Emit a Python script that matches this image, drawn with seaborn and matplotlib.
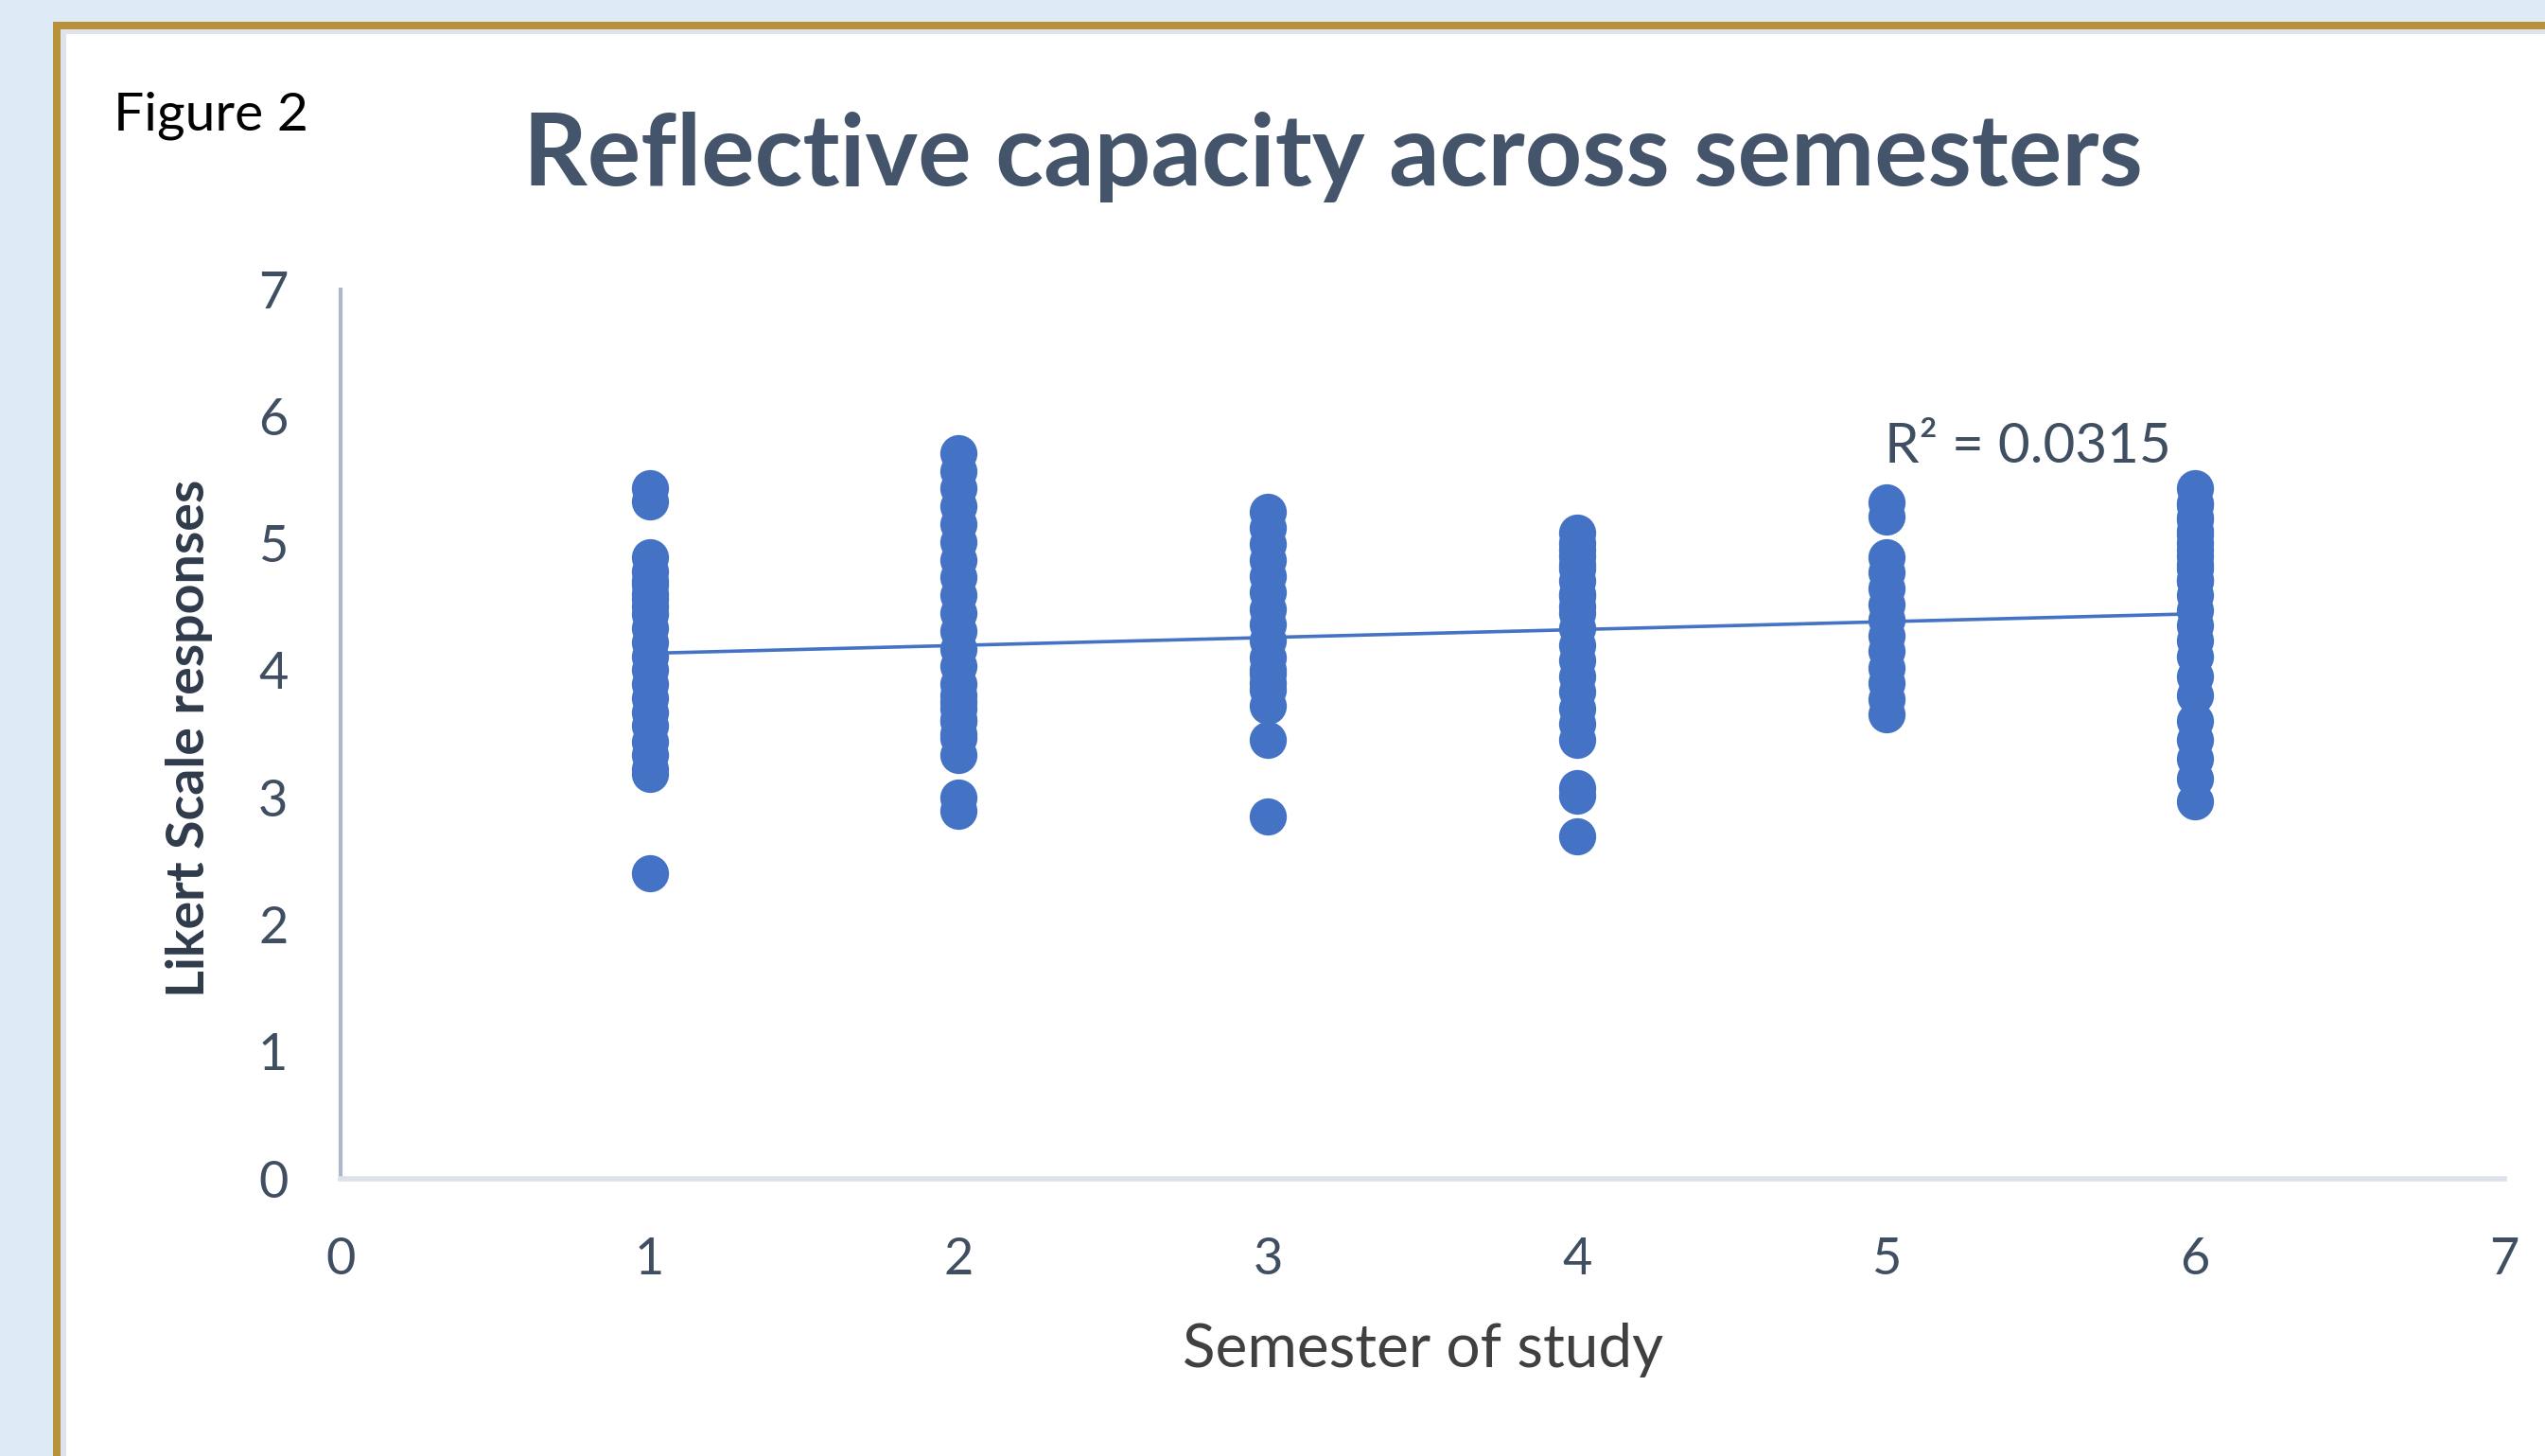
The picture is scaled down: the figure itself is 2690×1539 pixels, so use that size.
import numpy as np
import pandas as pd
import matplotlib
matplotlib.use("Agg")
import matplotlib.pyplot as plt
from matplotlib.patches import Rectangle
import seaborn as sns

# Likert scale responses per semester
semesters = [1, 2, 3, 4, 5, 6]
sem1 = [5.43, 5.33, 4.89, 4.78, 4.70, 4.67, 4.60, 4.56, 4.50, 4.44, 4.33, 4.22,
        4.11, 4.00, 3.89, 3.78, 3.67, 3.56, 3.44, 3.33, 3.22, 3.18, 2.40]
sem2 = [5.71, 5.57, 5.43, 5.29, 5.15, 5.01, 4.87, 4.73, 4.59, 4.45, 4.31, 4.17,
        4.03, 3.89, 3.80, 3.75, 3.70, 3.61, 3.60, 3.50, 3.47, 3.33, 3.00, 2.89]
sem3 = [5.25, 5.12, 4.99, 4.87, 4.74, 4.61, 4.48, 4.36, 4.23, 4.10, 4.00, 3.97,
        3.90, 3.85, 3.72, 3.45, 2.85]
sem4 = [5.08, 5.00, 4.95, 4.90, 4.83, 4.80, 4.70, 4.60, 4.58, 4.50, 4.45, 4.33,
        4.20, 4.08, 3.95, 3.83, 3.70, 3.58, 3.45, 3.07, 3.01, 2.69]
sem5 = [5.32, 5.21, 4.89, 4.77, 4.64, 4.52, 4.40, 4.27, 4.15, 4.02, 3.90, 3.77, 3.65]
sem6 = [5.43, 5.31, 5.30, 5.20, 5.19, 5.10, 5.07, 5.00, 4.95, 4.90, 4.83, 4.80,
        4.71, 4.70, 4.59, 4.47, 4.35, 4.23, 4.11, 3.95, 3.80, 3.60, 3.45, 3.30,
        3.15, 2.97]
r2_label = "R² = 0.0315"
axis_ticks = [0, 1, 2, 3, 4, 5, 6, 7]

responses = [sem1, sem2, sem3, sem4, sem5, sem6]
df = pd.DataFrame({
    "Semester": np.concatenate([[s] * len(v) for s, v in zip(semesters, responses)]),
    "Score": np.concatenate(responses),
})

sns.set_style("white")
plt.rcParams["font.family"] = ["Lato", "DejaVu Sans"]

W, H = 2690, 1539
fig = plt.figure(figsize=(W / 100, H / 100), dpi=100)
fig.patch.set_facecolor("#deeaf6")

# page frame: gold border, thin grey inner line, white page
fig.add_artist(Rectangle((56 / W, -0.1), 1.2, 1 - 23 / H + 0.1, transform=fig.transFigure,
                         facecolor="#b8923a", edgecolor="none", zorder=0))
fig.add_artist(Rectangle((64 / W, -0.1), 1.2, 1 - 31 / H + 0.1, transform=fig.transFigure,
                         facecolor="#dfe4ec", edgecolor="none", zorder=0))
fig.add_artist(Rectangle((70 / W, -0.1), 1.2, 1 - 36 / H + 0.1, transform=fig.transFigure,
                         facecolor="white", edgecolor="none", zorder=0))

ax = fig.add_axes([360 / W, 1 - 1245.5 / H, 2287 / W, 940 / H])
ax.set_facecolor("none")

blue = "#4472c4"
sns.regplot(data=df, x="Semester", y="Score", ax=ax, ci=None,
            scatter_kws=dict(s=800, color=blue, alpha=1, linewidths=0, zorder=3),
            line_kws=dict(color=blue, lw=2.6, zorder=2))

ax.set_xlim(0, 7)
ax.set_ylim(0, 7)
ax.set_xticks(axis_ticks)
ax.set_yticks(axis_ticks)
ax.tick_params(axis="both", length=0, labelsize=39, labelcolor="#404e62")
ax.tick_params(axis="y", pad=40)
ax.tick_params(axis="x", pad=44)

for side in ["top", "right"]:
    ax.spines[side].set_visible(False)
ax.spines["left"].set_color("#adb9ca")
ax.spines["left"].set_linewidth(3)
ax.spines["bottom"].set_color("#dde2ea")
ax.spines["bottom"].set_linewidth(4)

ax.set_xlabel("Semester of study", fontsize=46, color="#404040")
ax.xaxis.set_label_coords(0.5, -0.193)
ax.xaxis.label.set_va("center")
ax.set_ylabel("Likert Scale responses", fontsize=40, fontweight="bold", color="#2f3a4a")
ax.yaxis.set_label_coords(-0.07, 0.495)
ax.yaxis.label.set_va("center")

ax.text(5.457, 5.76, r2_label, fontsize=42, color="#404e62", ha="center", va="center")

fig.text(120 / W, 1 - 138 / H, "Figure 2", fontsize=41, color="black",
         ha="left", va="baseline")
fig.text(1409 / W, 1 - 196 / H, "Reflective capacity across semesters", fontsize=76,
         fontweight="bold", color="#44546a", ha="center", va="baseline")

fig.savefig("out.png", dpi=100, facecolor=fig.get_facecolor())
plt.close(fig)
